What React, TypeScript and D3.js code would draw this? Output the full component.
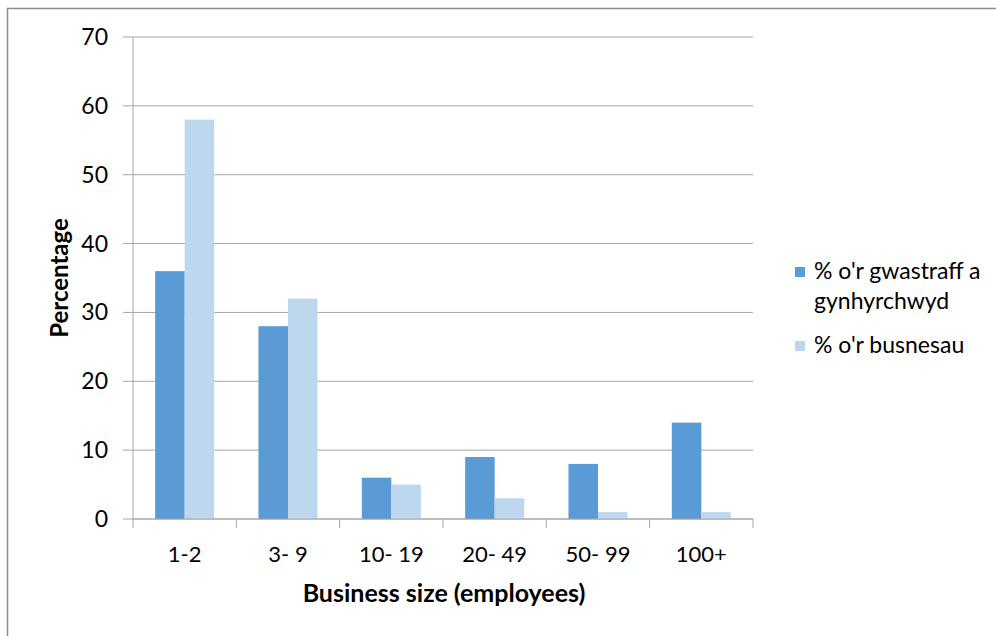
import React from "react";
import * as d3 from "d3";

const categories = ["1-2", "3- 9", "10- 19", "20- 49", "50- 99", "100+"];
const seriesNames = ["% o'r gwastraff a gynhyrchwyd", "% o'r busnesau"];
const wasteValues = [36, 28, 6, 9, 8, 14];
const businessValues = [58, 32, 5, 3, 1, 1];
const yTicks = [0, 10, 20, 30, 40, 50, 60, 70];
const colors = ["#5B9BD5", "#BDD7EE"];

const W = 996;
const H = 636;
const margin = { left: 133, right: 753, top: 37, bottom: 519 };
const FONT = "Lato, 'Open Sans', sans-serif";

export default function App() {
  const x = d3.scaleBand<string>().domain(categories).range([margin.left, margin.right]).paddingInner(0).paddingOuter(0);
  const inner = d3.scaleBand<string>().domain(["a", "b"]).range([0, x.bandwidth()]).paddingOuter(0.75).paddingInner(0);
  const y = d3.scaleLinear().domain([0, 70]).range([margin.bottom, margin.top]);
  const series = [wasteValues, businessValues];
  const grid = "#A6A6A6";
  const tickBoundaries = d3.range(categories.length + 1).map((i) => margin.left + i * x.step());

  return (
    <svg width={W} height={H} style={{ position: "absolute", left: 0, top: 0, background: "#fff" }}>
      <rect x={7.5} y={8.5} width={W} height={H} fill="#fff" stroke="#8C8C8C" strokeWidth={1.5} />
      {yTicks.map((t) => (
        <g key={t}>
          <line x1={margin.left - 10} x2={margin.right} y1={y(t)} y2={y(t)} stroke={grid} strokeWidth={1} />
          <text x={108} y={y(t)} dy="0.35em" textAnchor="end" fontFamily={FONT} fontSize={23} fill="#000">
            {t}
          </text>
        </g>
      ))}
      <line x1={margin.left} x2={margin.left} y1={margin.top} y2={margin.bottom + 9} stroke={grid} />
      {tickBoundaries.slice(1).map((bx, i) => (
        <line key={i} x1={bx} x2={bx} y1={margin.bottom} y2={margin.bottom + 9} stroke={grid} />
      ))}
      {categories.map((c, ci) => (
        <g key={c}>
          {series.map((vals, si) => (
            <rect
              key={si}
              x={(x(c) as number) + (inner(si === 0 ? "a" : "b") as number)}
              y={y(vals[ci])}
              width={inner.bandwidth()}
              height={y(0) - y(vals[ci])}
              fill={colors[si]}
            />
          ))}
          <text x={(x(c) as number) + x.bandwidth() / 2} y={562} textAnchor="middle" fontFamily={FONT} fontSize={22} fill="#000">
            {c}
          </text>
        </g>
      ))}
      <line x1={margin.left} x2={margin.right} y1={margin.bottom} y2={margin.bottom} stroke={grid} />
      <text x={444} y={602} textAnchor="middle" fontFamily={FONT} fontWeight="bold" fontSize={25} fill="#000">
        Business size (employees)
      </text>
      <text transform={`translate(68,278) rotate(-90)`} textAnchor="middle" fontFamily={FONT} fontWeight="bold" fontSize={24} fill="#000">
        Percentage
      </text>
      <g fontFamily={FONT} fontSize={23} fill="#000">
        <rect x={795} y={267} width={10} height={10} fill={colors[0]} />
        <text x={814} y={279}>% o'r gwastraff a</text>
        <text x={814} y={309}>gynhyrchwyd</text>
        <rect x={795} y={341} width={10} height={10} fill={colors[1]} />
        <text x={814} y={353}>{seriesNames[1]}</text>
      </g>
    </svg>
  );
}
